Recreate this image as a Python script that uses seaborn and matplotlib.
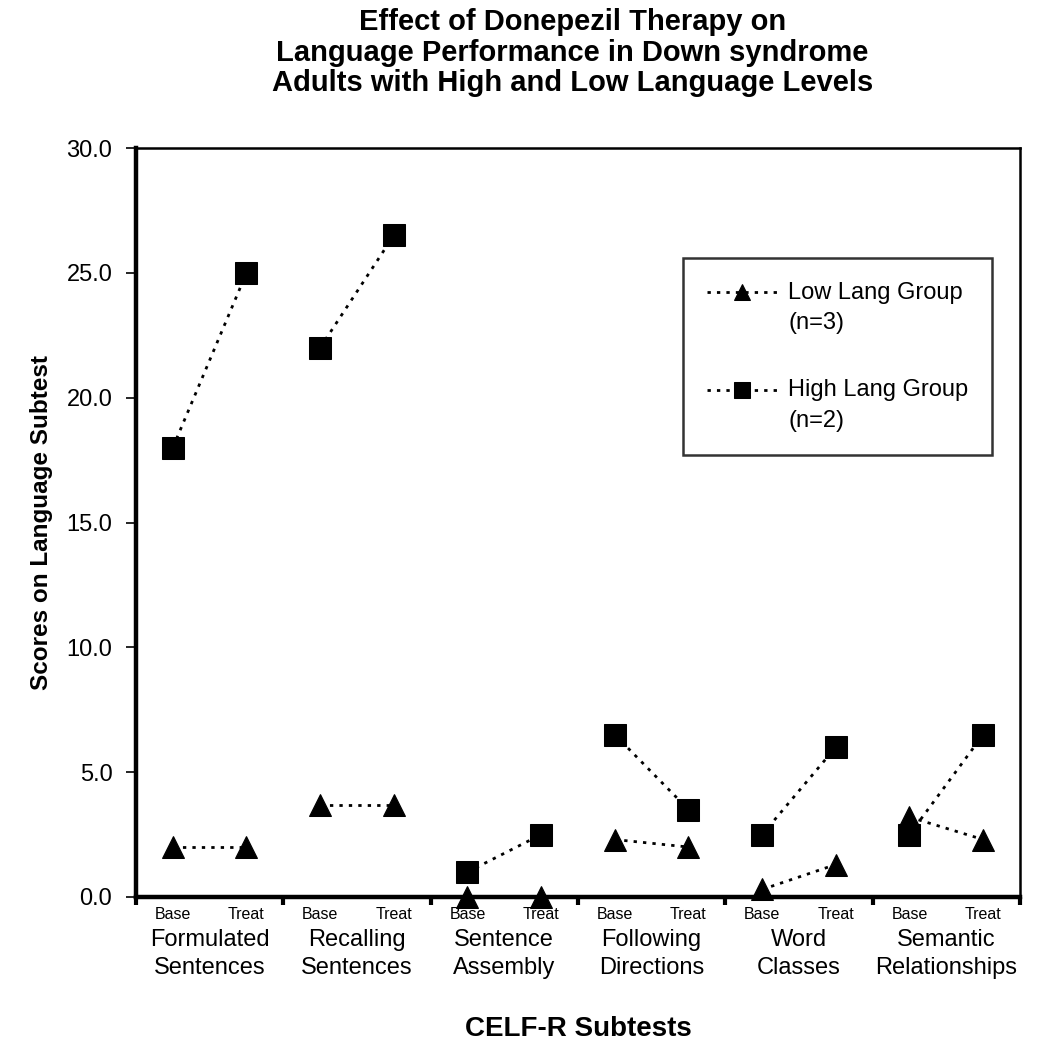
import pandas as pd
import matplotlib.pyplot as plt
import matplotlib.transforms as mtransforms
import seaborn as sns

# Subtests and the two test times
subtests = ["Formulated\nSentences", "Recalling\nSentences", "Sentence\nAssembly",
            "Following\nDirections", "Word\nClasses", "Semantic\nRelationships"]
times = ["Base", "Treat"]

# Scores (Base, Treat per subtest)
low_base = [2.0, 3.7, 0.0, 2.3, 0.3, 3.2]
low_treat = [2.0, 3.7, 0.0, 2.0, 1.3, 2.3]
high_base = [18.0, 22.0, 1.0, 6.5, 2.5, 2.5]
high_treat = [25.0, 26.5, 2.5, 3.5, 6.0, 6.5]

low_label = "Low Lang Group\n(n=3)"
high_label = "High Lang Group\n(n=2)"

# Build a long table, one row per point
rows = []
for i, name in enumerate(subtests):
    for group, b, t in [(low_label, low_base, low_treat), (high_label, high_base, high_treat)]:
        rows.append({"pos": 2 * i + 0.5, "score": b[i], "group": group, "unit": f"{group}{i}"})
        rows.append({"pos": 2 * i + 1.5, "score": t[i], "group": group, "unit": f"{group}{i}"})
df = pd.DataFrame(rows)

sns.set_style("white", {"text.color": "black", "axes.labelcolor": "black",
                        "xtick.color": "black", "ytick.color": "black"})
plt.rcParams['font.family'] = ['Liberation Sans', 'DejaVu Sans']

fig = plt.figure(figsize=(10.5, 10.47), dpi=100)
ax = fig.add_axes([0.1295, 0.1433, 0.8419, 0.7153])

sns.lineplot(data=df, x="pos", y="score", style="group", units="unit", estimator=None,
             color="black", markers={low_label: "^", high_label: "s"},
             dashes={low_label: (1.2, 2.2), high_label: (1.2, 2.2)},
             markersize=15.5, markeredgecolor="black", linewidth=2, ax=ax)
for line in ax.lines:
    line.set_clip_on(False)

ax.set_xlim(0, 12)
ax.set_ylim(0, 30)
ax.set_yticks([0, 5, 10, 15, 20, 25, 30])
ax.set_yticklabels([f"{v:.1f}" for v in [0, 5, 10, 15, 20, 25, 30]], fontsize=17)

# group separators as major ticks, Base/Treat as minor tick labels
ax.set_xticks(range(0, 13, 2))
ax.set_xticklabels([])
ax.set_xticks([k + 0.5 for k in range(12)], minor=True)
ax.set_xticklabels(times * 6, minor=True, fontsize=11.5)
ax.tick_params(axis="x", which="major", direction="out", length=6, width=3, bottom=True)
ax.tick_params(axis="x", which="minor", length=0, pad=7)
ax.tick_params(axis="y", direction="out", length=7, width=1.2, left=True, pad=10)

for i, name in enumerate(subtests):
    ax.text(2 * i + 1, -1.3, name, ha="center", va="top", fontsize=17,
            linespacing=1.3)

for side in ["top", "right"]:
    ax.spines[side].set_linewidth(1.8)
    ax.spines[side].set_color("black")
for side in ["left", "bottom"]:
    ax.spines[side].set_linewidth(3.2)
    ax.spines[side].set_color("black")

ax.set_xlabel("CELF-R Subtests", fontsize=20, fontweight="bold", labelpad=68)
ax.set_ylabel("Scores on Language Subtest", fontsize=17.5, fontweight="bold", labelpad=10)

leg = ax.legend(loc="upper left", bbox_to_anchor=(0.619, 0.853), fontsize=17,
                handlelength=3.0, labelspacing=1.9, borderpad=1.0, handletextpad=0.45,
                borderaxespad=0, frameon=True, fancybox=False, edgecolor="black")
leg.get_frame().set_linewidth(1.8)
for t in leg.get_texts():
    t.set_linespacing(1.5)
for h in leg.legend_handles:
    h.set_markersize(11)
    # line up the marker with the first text line
    h.set_transform(h.get_transform() + mtransforms.Affine2D().translate(0, 16))

fig.text(0.545, 0.992, "Effect of Donepezil Therapy on\nLanguage Performance in Down syndrome\n"
         "Adults with High and Low Language Levels",
         ha="center", va="top", fontsize=21, fontweight="bold", linespacing=1.1)

fig.savefig("out.png", dpi=100)
